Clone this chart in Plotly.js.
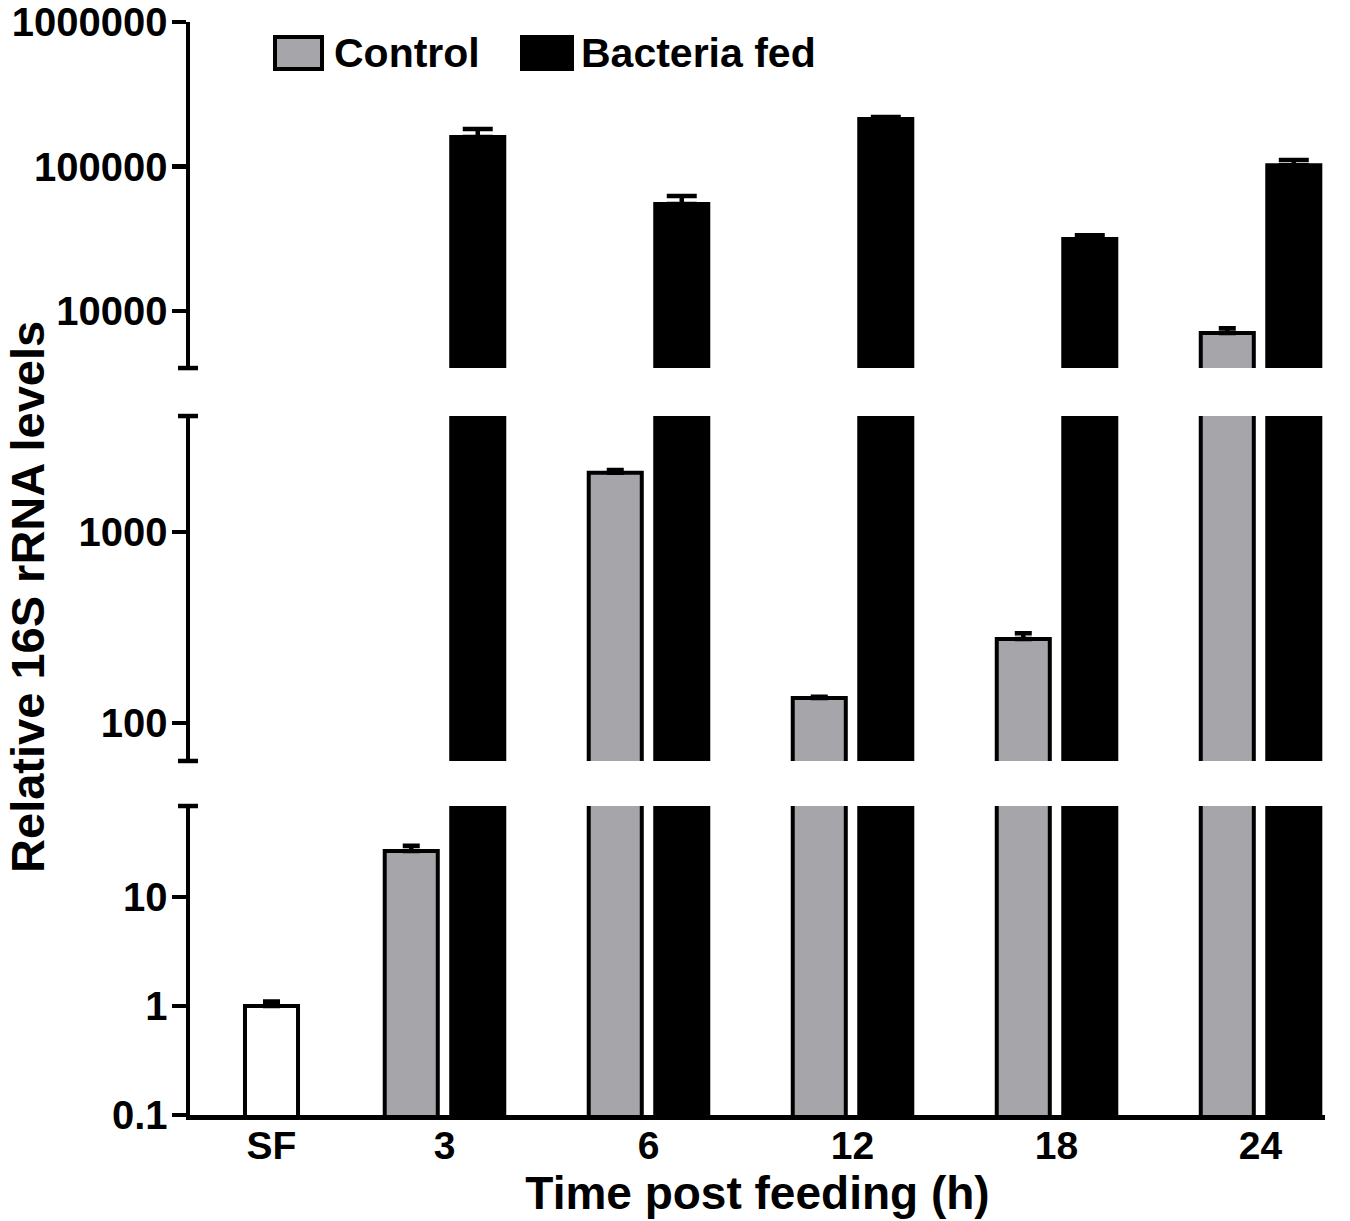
<!DOCTYPE html>
<html>
<head>
<meta charset="utf-8">
<script src="https://cdn.plot.ly/plotly-3.0.1.min.js"></script>
<style>
  html, body { margin: 0; padding: 0; background: #fff; }
  #chart { width: 1350px; height: 1221px; }
</style>
</head>
<body>
<div id="chart"></div>
<script>
// values (relative 16S rRNA, log scale)
var categories = ['SF', '3', '6', '12', '18', '24'];
var sfValues = [1.0, null, null, null, null, null];
var sfErrors = [0.1, null, null, null, null, null];
var controlValues = [null, 26.5, 2040, 135, 275, 7050];
var controlErrors = [null, 3, 70, 2, 20, 550];
var bacteriaValues = [null, 160000, 55000, 213000, 31500, 102000];
var bacteriaErrors = [null, 22000, 7500, 7000, 2000, 9000];

var yTickVals = [[0.1, 1, 10], [100, 1000], [10000, 100000, 1000000]];
var yTickText = [['0.1', '1', '10'], ['100', '1000'], ['10000', '100000', '1000000']];

// layout constants
var FONT = 'Liberation Sans, Arial, Helvetica, sans-serif';
var GRAY = '#a6a5aa';
var BAR_W = 0.26;
var PAIR_HALF = 0.163;   // distance of each bar centre from the group centre
var SF_SHIFT = 0.152;    // SF group sits a bit right of its slot
var LINE_W = 4;
var AXIS_W = 4.5;
var M = {l: 190, r: 25, t: 22, b: 106};

// broken y axis: three stacked log segments
var segments = [
    {name: 'y',  domain: [0, 0.2827],      range: [-1.0005, 1.835]},
    {name: 'y2', domain: [0.3239, 0.6395], range: [1.801, 3.607]},
    {name: 'y3', domain: [0.6834, 1],      range: [3.6055, 6.0005]}
];

function errorBar(errs, capHalf) {
    return {
        type: 'data',
        symmetric: false,
        array: errs,
        arrayminus: errs.map(function () { return 0; }),
        color: '#000',
        thickness: AXIS_W,
        width: capHalf
    };
}

var traces = [];
segments.forEach(function (seg) {
    traces.push({
        type: 'bar', x: categories, y: sfValues, yaxis: seg.name,
        offset: SF_SHIFT - BAR_W / 2, width: BAR_W,
        marker: {color: '#fff', line: {color: '#000', width: LINE_W}},
        error_y: errorBar(sfErrors, 8.5),
        showlegend: false, hoverinfo: 'skip'
    });
    traces.push({
        type: 'bar', x: categories, y: controlValues, yaxis: seg.name,
        offset: -PAIR_HALF - BAR_W / 2, width: BAR_W,
        marker: {color: GRAY, line: {color: '#000', width: LINE_W}},
        error_y: errorBar(controlErrors, 8.5),
        showlegend: false, hoverinfo: 'skip'
    });
    traces.push({
        type: 'bar', x: categories, y: bacteriaValues, yaxis: seg.name,
        offset: PAIR_HALF - BAR_W / 2, width: BAR_W,
        marker: {color: '#000', line: {color: '#000', width: LINE_W}},
        error_y: errorBar(bacteriaErrors, 15),
        showlegend: false, hoverinfo: 'skip'
    });
});

var tickFont = {family: FONT, size: 40, color: '#000', weight: 'bold'};

var layout = {
    width: 1350,
    height: 1221,
    margin: {l: M.l, r: M.r, t: M.t, b: M.b, pad: 0},
    paper_bgcolor: '#fff',
    plot_bgcolor: 'rgba(0,0,0,0)',
    barmode: 'overlay',
    showlegend: false,
    xaxis: {
        type: 'category',
        range: [-0.2475, 5.316],
        tickmode: 'array',
        // SF label follows its shifted bar, the others sit on their category
        tickvals: categories.map(function (c, i) { return i === 0 ? SF_SHIFT : c; }),
        ticktext: categories,
        ticks: '',
        ticklabelstandoff: -8,
        showgrid: false,
        zeroline: false,
        showline: true,
        linecolor: '#000',
        linewidth: 5,
        anchor: 'y',
        tickfont: {family: FONT, size: 39, color: '#000', weight: 'bold'},
        title: {
            text: 'Time post feeding (h)',
            font: {family: FONT, size: 46, color: '#000', weight: 'bold'},
            standoff: 6
        },
        fixedrange: true
    },
    shapes: [],
    annotations: []
};

segments.forEach(function (seg, i) {
    var key = 'yaxis' + (i === 0 ? '' : (i + 1));
    layout[key] = {
        type: 'log',
        domain: seg.domain,
        range: seg.range,
        anchor: 'x',
        tickmode: 'array',
        tickvals: yTickVals[i],
        ticktext: yTickText[i],
        ticks: 'outside',
        ticklen: 14,
        tickwidth: AXIS_W,
        tickcolor: '#000',
        ticklabelstandoff: -4,
        showline: true,
        linecolor: '#000',
        linewidth: AXIS_W,
        showgrid: false,
        zeroline: false,
        tickfont: tickFont,
        fixedrange: true
    };
});

// end caps marking the axis breaks
function breakCap(axisName, where) {
    return {
        type: 'line', layer: 'above',
        xref: 'paper', xsizemode: 'pixel', xanchor: 0, x0: -12, x1: 8,
        yref: axisName + ' domain', y0: where, y1: where,
        line: {color: '#000', width: AXIS_W}
    };
}
layout.shapes.push(breakCap('y', 1));
layout.shapes.push(breakCap('y2', 0));
layout.shapes.push(breakCap('y2', 1));
layout.shapes.push(breakCap('y3', 0));

// y title spanning the whole broken axis
layout.annotations.push({
    text: 'Relative 16S rRNA levels',
    textangle: -90,
    xref: 'paper', yref: 'paper',
    x: 0, y: 0.474,
    xanchor: 'center', yanchor: 'middle',
    xshift: 28 - M.l,
    borderpad: 0,
    showarrow: false,
    font: {family: FONT, size: 47, color: '#000', weight: 'bold'}
});

// legend drawn by hand so the swatches keep the figure's size
var plotW = 1350 - M.l - M.r, plotH = 1221 - M.t - M.b;
function px(xp) { return (xp - M.l) / plotW; }
function py(yp) { return (1221 - M.b - yp) / plotH; }
var legendItems = [
    {label: 'Control', fill: GRAY, x0: 275, x1: 322, tx: 332},
    {label: 'Bacteria fed', fill: '#000', x0: 522, x1: 572, tx: 579}
];
legendItems.forEach(function (it) {
    layout.shapes.push({
        type: 'rect', xref: 'paper', yref: 'paper',
        x0: px(it.x0), x1: px(it.x1), y0: py(69), y1: py(37),
        fillcolor: it.fill, line: {color: '#000', width: LINE_W}
    });
    layout.annotations.push({
        text: it.label, xref: 'paper', yref: 'paper',
        x: px(it.tx), y: py(53), xanchor: 'left', yanchor: 'middle',
        showarrow: false,
        font: {family: FONT, size: 41, color: '#000', weight: 'bold'}
    });
});

Plotly.newPlot('chart', traces, layout, {displayModeBar: false, staticPlot: true});
</script>
</body>
</html>
